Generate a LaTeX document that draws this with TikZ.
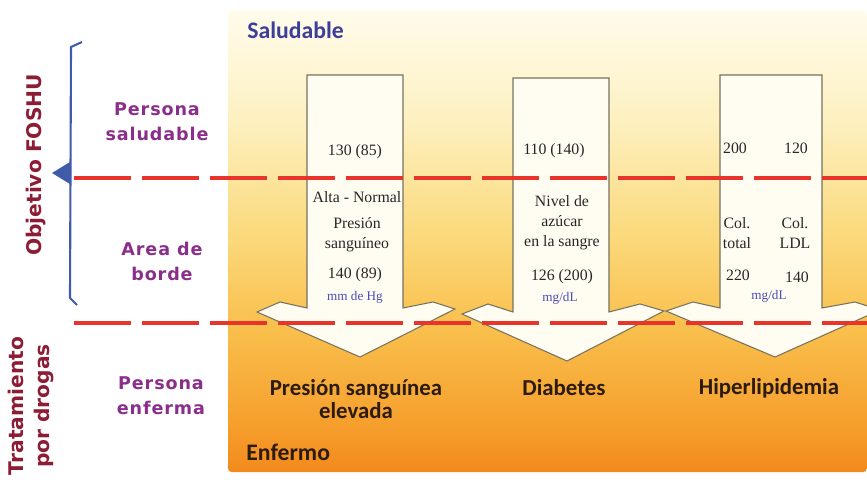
\documentclass[tikz,border=0pt]{standalone}
\usepackage{fontspec}
\setmainfont{Liberation Serif}
\newfontfamily\rowfont[LetterSpace=5]{DejaVu Sans}
\newfontfamily\sidefont{DejaVu Sans}
\newfontfamily\capfont{Carlito}
\usetikzlibrary{positioning}

\definecolor{dashred}{HTML}{E8342A}
\definecolor{bracketblue}{HTML}{3F5BA9}
\definecolor{foshured}{HTML}{8C1D35}
\definecolor{rowpurple}{HTML}{8A2E8C}
\definecolor{topblue}{HTML}{3C3F9A}
\definecolor{unitblue}{HTML}{4B4BB8}
\definecolor{darkbrown}{HTML}{2B1B10}
\definecolor{arrowfill}{HTML}{FFFDF2}
\definecolor{arrowline}{HTML}{77725E}
\definecolor{bgA}{HTML}{F28A1C}
\definecolor{bgB}{HTML}{F6A02E}
\definecolor{bgC}{HTML}{F9BF4C}
\definecolor{bgD}{HTML}{FBDA7E}
\definecolor{bgE}{HTML}{FDF0C0}
\definecolor{bgF}{HTML}{FFFCEC}
\pgfdeclareverticalshading{bgfade}{100bp}{color(0bp)=(bgA); color(25bp)=(bgA); color(30.5bp)=(bgB); color(40.5bp)=(bgC); color(51bp)=(bgD); color(63bp)=(bgE); color(75bp)=(bgF); color(100bp)=(bgF)}

\begin{document}
\begin{tikzpicture}[
    x=0.02cm, y=-0.02cm,
    redline/.style={draw=dashred, line width=2.2pt, dash pattern=on 1.14cm off 0.22cm},
    bigarrow/.style={draw=arrowline, fill=arrowfill, line width=0.6pt, line join=miter},
    sidelbl/.style={font=\sidefont\bfseries\fontsize{11.5}{14.5}\selectfont, text=foshured, rotate=90, align=center},
    rowlbl/.style={font=\rowfont\bfseries\fontsize{10}{14.2}\selectfont, text=rowpurple, align=center},
    cell/.style={font=\fontsize{9}{11.3}\selectfont, text=black!85, align=center, inner sep=0pt},
    unit/.style={font=\fontsize{7.5}{9}\selectfont, text=unitblue, inner sep=0pt},
    illness/.style={font=\capfont\bfseries\fontsize{13}{13}\selectfont, text=darkbrown, align=center}
]

\useasboundingbox (0,0) rectangle (867,480);

\shade[shading=bgfade, rounded corners=2] (228,10) rectangle (867,472);

\begin{scope}
\clip (228,10) rectangle (867,472);
\draw[bigarrow] (307,75) -- (403,75) -- (403,308) -- (433,302) -- (455,309) -- (360,357) -- (257,312) -- (280,302) -- (307,308) -- cycle;
\draw[bigarrow] (513,78) -- (609,78) -- (609,312) -- (640,304) -- (664,311) -- (567,361) -- (462,314) -- (488,304) -- (513,312) -- cycle;
\draw[bigarrow] (720,75) -- (822,75) -- (822,308) -- (855,302) -- (880,310) -- (775,357) -- (666,311) -- (693,302) -- (720,308) -- cycle;
\end{scope}

\draw[redline] (74,178) -- (867,178);
\draw[redline] (74,323) -- (867,323);

\draw[bracketblue, line width=1.2pt] (82,42) -- (71,47) -- (70,298) -- (77,305);
\fill[bracketblue] (52,173) -- (70,162) -- (70,184) -- cycle;

\node[sidelbl] (foshu) at (36,165) {Objetivo FOSHU};
\node[sidelbl] (drogas) at (31,406) {Tratamiento\\por drogas};

\node[rowlbl] (sano) at (157,122) {Persona\\saludable};
\node[rowlbl] (borde) at (162,261) {Area de\\borde};
\node[rowlbl] (enferma) at (161,396) {Persona\\enferma};

\node[font=\capfont\bfseries\fontsize{13.5}{14}\selectfont, text=topblue, anchor=west, inner sep=0pt] (top) at (247,30) {Saludable};
\node[font=\capfont\bfseries\fontsize{13.5}{14}\selectfont, text=darkbrown, anchor=west, inner sep=0pt] (bottom) at (246,452) {Enfermo};

\node[cell] (p1) at (355,152) {130 (85)};
\node[cell] (p2) at (357,197) {Alta - Normal};
\node[cell] (p3) at (357,235) {Presión\\sanguíneo};
\node[cell] (p4) at (355,275) {140 (89)};
\node[unit] (p5) at (355,297) {mm de Hg};

\node[cell] (d1) at (554,151) {110 (140)};
\node[cell] (d2) at (562,223) {Nivel de\\azúcar\\en la sangre};
\node[cell] (d3) at (562,277) {126 (200)};
\node[unit] (d4) at (560,298) {mg/dL};

\node[cell] (h1) at (735,148) {200};
\node[cell] (h2) at (796,148) {120};
\node[cell] (h3) at (737,233) {Col.\\total};
\node[cell] (h4) at (795,233) {Col.\\LDL};
\node[cell] (h5) at (738,275) {220};
\node[cell] (h6) at (797,277) {140};
\node[unit] (h7) at (769,296) {mg/dL};

\node[illness] (hta) at (356,399) {Presión sanguínea\\elevada};
\node[illness] (dia) at (564,388) {Diabetes};
\node[illness] (hip) at (769,388) {Hiperlipidemia};

\end{tikzpicture}
\end{document}
